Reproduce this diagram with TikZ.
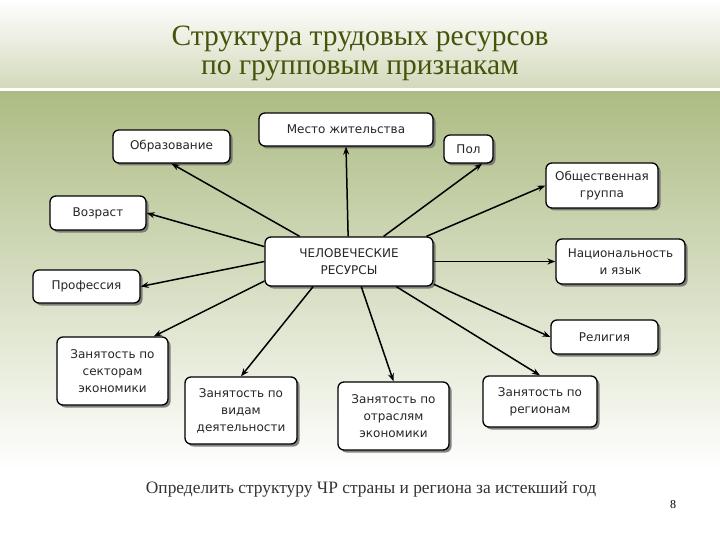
\documentclass[tikz,border=0pt]{standalone}
\usepackage{fontspec}
\setmainfont{Liberation Serif}
\newfontfamily\boxfont{DejaVu Sans}
\usetikzlibrary{shadows,arrows.meta}
\definecolor{titlecol}{HTML}{45540A}
\definecolor{bandtop}{HTML}{ADBC84}
\definecolor{headbot}{HTML}{D3D9BB}
\tikzset{
  box/.style={draw=black, line width=1.3pt, rounded corners=6pt, fill=white,
    align=center, font=\boxfont\fontsize{12}{17}\selectfont, text=black!85,
    inner sep=0pt, drop shadow={shadow xshift=2.5pt, shadow yshift=-2.5pt, fill=black!60, opacity=0.8}},
  arr/.style={line width=1.5pt, -{Stealth[length=8pt,width=6pt]}}
}
\begin{document}
\begin{tikzpicture}[x=1pt,y=-1pt]
\useasboundingbox (0,0) rectangle (720,540);
% background
\fill[white] (0,0) rectangle (720,540);
\shade[top color=white, bottom color=headbot] (0,0) rectangle (720,88);
\shade[top color=bandtop, bottom color=white] (0,92) rectangle (720,470);
% title
\node[text=titlecol, font=\fontsize{29.5}{29}\selectfont, align=center] (title) at (360,53)
  {Структура трудовых ресурсов\\по групповым признакам};
% nodes
\node[box, minimum width=168pt, minimum height=49pt] (c) at (349,261.5) {ЧЕЛОВЕЧЕСКИЕ\\РЕСУРСЫ};
\node[box, minimum width=117pt, minimum height=33pt] (obr) at (171.5,146.5) {Образование};
\node[box, minimum width=174pt, minimum height=33pt] (mes) at (346,129.5) {Место жительства};
\node[box, minimum width=49pt, minimum height=28pt] (pol) at (468.5,149) {Пол};
\node[box, minimum width=112pt, minimum height=45pt] (obs) at (602,185.5) {Общественная\\группа};
\node[box, minimum width=96pt, minimum height=34pt] (voz) at (98,213) {Возраст};
\node[box, minimum width=129pt, minimum height=45pt] (nac) at (620.5,261.5) {Национальность\\и язык};
\node[box, minimum width=107pt, minimum height=33pt] (pro) at (86.5,286.5) {Профессия};
\node[box, minimum width=107pt, minimum height=34pt] (rel) at (604.5,337) {Религия};
\node[box, minimum width=111pt, minimum height=68pt] (sek) at (112.5,371) {Занятость по\\секторам\\экономики};
\node[box, minimum width=112pt, minimum height=67pt] (vid) at (241,410.5) {Занятость по\\видам\\деятельности};
\node[box, minimum width=111pt, minimum height=68pt] (otr) at (393.5,416) {Занятость по\\отраслям\\экономики};
\node[box, minimum width=114pt, minimum height=51pt] (reg) at (540,401.5) {Занятость по\\регионам};
% connectors
\draw[arr] (c.153) -- (obr.south);
\draw[arr] (c.92) -- (mes.south);
\draw[arr] (c.36) -- (pol.-47);
\draw[arr] (c.18) -- (obs.west);
\draw[arr] (c.170) -- (voz.east);
\draw[arr] (c.east) -- (nac.west);
\draw[arr] (c.180) -- (pro.east);
\draw[arr] (c.-15) -- (rel.west);
\draw[arr] (c.193) -- (sek.40);
\draw[arr] (c.215) -- (vid.north);
\draw[arr] (c.-64) -- (otr.north);
\draw[arr] (c.-28) -- (reg.north);
% bottom text
\node[text=black!80, font=\fontsize{17.4}{19}\selectfont] (note) at (371,489) {Определить структуру ЧР страны и региона за истекший год};
\node[text=black, font=\fontsize{12}{13}\selectfont] (num) at (673,505) {8};
\end{tikzpicture}
\end{document}
